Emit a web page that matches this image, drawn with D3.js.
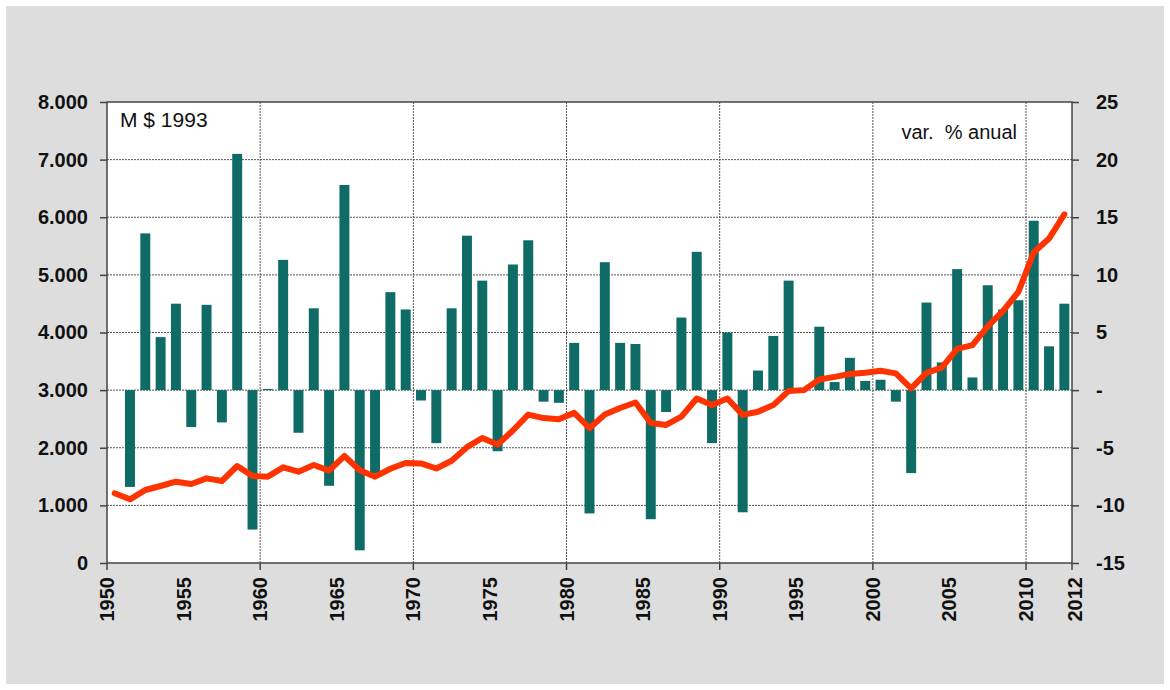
<!DOCTYPE html>
<html>
<head>
<meta charset="utf-8">
<script src="https://cdn.jsdelivr.net/npm/d3@7"></script>
<style>
  body { margin: 0; background: #fff; }
  svg text { font-family: "Liberation Sans", Arial, sans-serif; fill: #111; }
</style>
</head>
<body>
<svg id="chart" width="1170" height="690"></svg>
<script>
// years on the category axis
var years = d3.range(1950, 2013);

// annual % change (right axis), 1950 has no value
var growth = [null,
  -8.4, 13.6, 4.6, 7.5, -3.2, 7.4, -2.8, 20.5, -12.1, 0.1,
  11.3, -3.7, 7.1, -8.3, 17.8, -13.9, -7.2, 8.5, 7.0, -0.9,
  -4.6, 7.1, 13.4, 9.5, -5.3, 10.9, 13.0, -1.0, -1.1, 4.1,
  -10.7, 11.1, 4.1, 4.0, -11.2, -1.9, 6.3, 12.0, -4.6, 5.0,
  -10.6, 1.7, 4.7, 9.5, 0.2, 5.5, 0.7, 2.8, 0.8, 0.9,
  -1.0, -7.2, 7.6, 2.4, 10.5, 1.1, 9.1, 7.0, 7.8, 14.7,
  3.8, 7.5];

// level in M $ 1993 (left axis)
var level = [1210,
  1105, 1267, 1336, 1411, 1371, 1469, 1423, 1683, 1510, 1498,
  1660, 1585, 1700, 1602, 1857, 1610, 1498, 1635, 1735, 1728,
  1640, 1775, 2010, 2170, 2055, 2300, 2575, 2515, 2495, 2605,
  2340, 2575, 2690, 2785, 2430, 2395, 2540, 2855, 2740, 2855,
  2570, 2625, 2740, 2985, 3000, 3185, 3230, 3280, 3300, 3335,
  3290, 3030, 3300, 3390, 3715, 3780, 4105, 4375, 4705, 5390,
  5630, 6050];

var leftTicks = [0, 1000, 2000, 3000, 4000, 5000, 6000, 7000, 8000];
var rightTicks = [-15, -10, -5, 0, 5, 10, 15, 20, 25];
var yearLabels = [1950, 1955, 1960, 1965, 1970, 1975, 1980, 1985, 1990, 1995, 2000, 2005, 2010];
var gridYears = [1960, 1970, 1980, 1990, 2000, 2010];

var svg = d3.select("#chart");
var L = 107, R = 1072, T = 102, B = 563;

// page background
svg.append("rect").attr("x", 6).attr("y", 6).attr("width", 1158).attr("height", 678)
  .attr("fill", "#dddddd");
svg.append("rect").attr("x", L).attr("y", T).attr("width", R - L).attr("height", B - T)
  .attr("fill", "#ffffff");

var x = d3.scaleBand().domain(years).range([L, R]).paddingInner(0.35).paddingOuter(0.175);
var yL = d3.scaleLinear().domain([0, 8000]).range([B, T]);
var yR = d3.scaleLinear().domain([-15, 25]).range([B, T]);

var gap = (x.step() - x.bandwidth()) / 2;
function edge(yr) { return yr > 2012 ? R : x(yr) - gap; }

// dashed grid
svg.append("g").selectAll("line").data(leftTicks.filter(function(d){ return d > 0 && d < 8000; }))
  .enter().append("line")
  .attr("x1", L).attr("x2", R)
  .attr("y1", function(d){ return yL(d); }).attr("y2", function(d){ return yL(d); })
  .attr("stroke", "#555").attr("stroke-width", 1).attr("stroke-dasharray", "2,1");
svg.append("g").selectAll("line").data(gridYears)
  .enter().append("line")
  .attr("x1", edge).attr("x2", edge)
  .attr("y1", T).attr("y2", B)
  .attr("stroke", "#555").attr("stroke-width", 1).attr("stroke-dasharray", "2,1");

// bars
var barData = years.map(function(y, i){ return {year: y, v: growth[i]}; })
  .filter(function(d){ return d.v !== null; });
svg.append("g").selectAll("rect").data(barData).enter().append("rect")
  .attr("x", function(d){ return x(d.year); })
  .attr("width", x.bandwidth())
  .attr("y", function(d){ return yR(Math.max(0, d.v)); })
  .attr("height", function(d){ return Math.abs(yR(d.v) - yR(0)); })
  .attr("fill", "#0e6b66");

// level line
var line = d3.line()
  .x(function(d, i){ return x(years[i]) + x.bandwidth() / 2; })
  .y(function(d){ return yL(d); });
svg.append("path").datum(level).attr("d", line)
  .attr("fill", "none").attr("stroke", "#ff3300").attr("stroke-width", 6)
  .attr("stroke-linejoin", "round").attr("stroke-linecap", "round");

// frame
svg.append("rect").attr("x", L).attr("y", T).attr("width", R - L).attr("height", B - T)
  .attr("fill", "none").attr("stroke", "#444").attr("stroke-width", 1.5);

// left axis
var gl = svg.append("g").attr("transform", "translate(" + L + ",0)")
  .call(d3.axisLeft(yL).tickValues(leftTicks).tickSize(7).tickPadding(12)
    .tickFormat(function(d){ return d === 0 ? "0" : d3.format(",")(d).replace(/,/g, "."); }));
// right axis
var gr = svg.append("g").attr("transform", "translate(" + R + ",0)")
  .call(d3.axisRight(yR).tickValues(rightTicks).tickSize(7).tickPadding(17)
    .tickFormat(function(d){ return d === 0 ? "-" : String(d); }));
[gl, gr].forEach(function(g){
  g.select(".domain").remove();
  g.selectAll(".tick line").attr("stroke", "#444").attr("stroke-width", 1.5);
  g.selectAll("text").attr("font-size", 20).attr("font-weight", "bold")
    .attr("font-family", "Liberation Sans, Arial, sans-serif").attr("fill", "#111");
});

// bottom ticks and labels
var xt = svg.append("g");
xt.selectAll("line").data([1950].concat(gridYears, [2013])).enter().append("line")
  .attr("x1", edge).attr("x2", edge).attr("y1", B).attr("y2", B + 7)
  .attr("stroke", "#444").attr("stroke-width", 1.5);
xt.selectAll("text").data(yearLabels.concat([2012])).enter().append("text")
  .attr("transform", function(d){
    var px = d === 2012 ? R + 3 : edge(d);
    return "translate(" + px + "," + (B + 14) + ") rotate(-90)";
  })
  .attr("text-anchor", "end").attr("dy", "0.35em")
  .attr("font-size", 20).attr("font-weight", "bold")
  .text(function(d){ return d; });

// unit labels
svg.append("text").attr("x", 120).attr("y", 127).attr("font-size", 21).text("M $ 1993");
svg.append("text").attr("x", 1017).attr("y", 139).attr("text-anchor", "end")
  .attr("font-size", 20).attr("xml:space", "preserve").text("var.  % anual");
</script>
</body>
</html>
